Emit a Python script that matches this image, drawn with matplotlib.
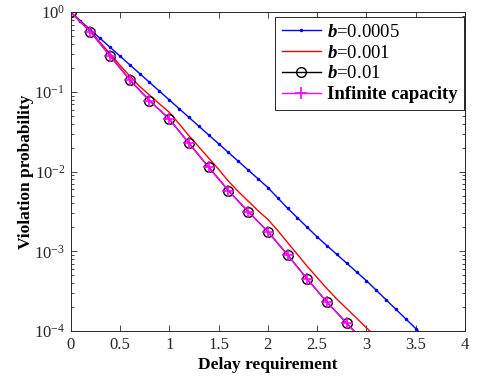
import numpy as np
import matplotlib
matplotlib.use("Agg")
import matplotlib.pyplot as plt
from matplotlib.ticker import LogLocator, NullFormatter, FixedLocator

plt.rcParams['font.family'] = ['Liberation Serif', 'DejaVu Serif']
plt.rcParams['mathtext.fontset'] = 'custom'
plt.rcParams['mathtext.rm'] = 'Liberation Serif'
plt.rcParams['mathtext.it'] = 'Liberation Serif:italic'
plt.rcParams['mathtext.bf'] = 'Liberation Serif:bold'
plt.rcParams['mathtext.bfit'] = 'Liberation Serif:italic:bold'

# --- data (log10 of violation probability) ---
x_blue = [round(0.1 * i, 1) for i in range(37)]
log_blue = [0, -0.11, -0.22, -0.33, -0.44, -0.55, -0.66, -0.77, -0.88, -0.99,
            -1.10, -1.21, -1.32, -1.43, -1.54, -1.65, -1.76, -1.87, -1.98, -2.09,
            -2.20, -2.33, -2.46, -2.58, -2.70, -2.82, -2.93, -3.04, -3.15, -3.26,
            -3.37, -3.49, -3.61, -3.73, -3.85, -3.97, -4.09]

x_red = [round(0.1 * i, 1) for i in range(32)]
log_red = [0, -0.115, -0.235, -0.38, -0.52, -0.665, -0.80, -0.93, -1.04, -1.15,
           -1.255, -1.40, -1.55, -1.69, -1.83, -1.97, -2.12, -2.25, -2.37, -2.49,
           -2.60, -2.74, -2.89, -3.04, -3.19, -3.33, -3.47, -3.60, -3.72, -3.84,
           -3.96, -4.08]

x_mark = [round(0.2 * i, 1) for i in range(16)]
p_b001 = [1, 0.571, 0.283, 0.1416, 0.0778, 0.0458, 0.0227, 0.01135, 0.00578,
          0.00315, 0.00177, 0.000901, 0.000447, 0.00023, 0.000125, 0.000068]
p_inf = [1, 0.571, 0.283, 0.1416, 0.0778, 0.0458, 0.0227, 0.01135, 0.00578,
         0.00315, 0.00177, 0.000901, 0.000447, 0.00023, 0.000125, 0.000068]

labels = [r'$\mathbfit{b}$=0.0005', r'$\mathbfit{b}$=0.001', r'$\mathbfit{b}$=0.01',
          'Infinite capacity']
xticks = [0, 0.5, 1, 1.5, 2, 2.5, 3, 3.5, 4]
xticklabels = ['0', '0.5', '1', '1.5', '2', '2.5', '3', '3.5', '4']

fig = plt.figure(figsize=(4.8, 3.8), dpi=100)
ax = fig.add_axes([0.147, 0.129, 0.822, 0.839])

ax.semilogy(x_blue, 10.0 ** np.array(log_blue), color='#0000ff', lw=1.0,
            marker='.', ms=3, label=labels[0])
ax.semilogy(x_red, 10.0 ** np.array(log_red), color='#ff0000', lw=1.0,
            label=labels[1])
ax.semilogy(x_mark, p_b001, color='black', lw=1.0, marker='o', ms=7,
            mfc='none', mec='black', mew=1.0, label=labels[2])
ax.semilogy(x_mark, p_inf, color='#ff00ff', lw=1.0, marker='+', ms=8,
            mew=1.2, label=labels[3])

ax.set_xlim(0, 4)
ax.set_ylim(1e-4, 1)
ax.xaxis.set_major_locator(FixedLocator(xticks))
ax.set_xticklabels(xticklabels)
ax.yaxis.set_major_locator(LogLocator(base=10, numticks=10))
ax.yaxis.set_minor_locator(LogLocator(base=10, subs=np.arange(2, 10), numticks=10))
ax.yaxis.set_minor_formatter(NullFormatter())
ax.tick_params(which='both', direction='in', top=True, right=True,
               labelsize=12, width=0.6, colors='#262626', pad=4)
ax.tick_params(which='major', length=4)
ax.tick_params(which='minor', length=2)
for s in ax.spines.values():
    s.set_linewidth(0.7)
    s.set_color('#262626')

ax.set_xlabel('Delay requirement', fontsize=12.5, fontweight='bold', labelpad=3)
ax.set_ylabel('Violation probability', fontsize=12.5, fontweight='bold', labelpad=0)

leg = ax.legend(loc='upper right', bbox_to_anchor=(0.997, 0.985),
                fontsize=13.5, frameon=True, fancybox=False,
                edgecolor='#262626', framealpha=1, borderpad=0.35,
                labelspacing=0.2, handlelength=2.1, handletextpad=0.3,
                borderaxespad=0.0)
leg.get_frame().set_linewidth(0.7)
for t in leg.get_texts()[3:]:
    t.set_fontweight('bold')

fig.savefig('out.png', dpi=100)
